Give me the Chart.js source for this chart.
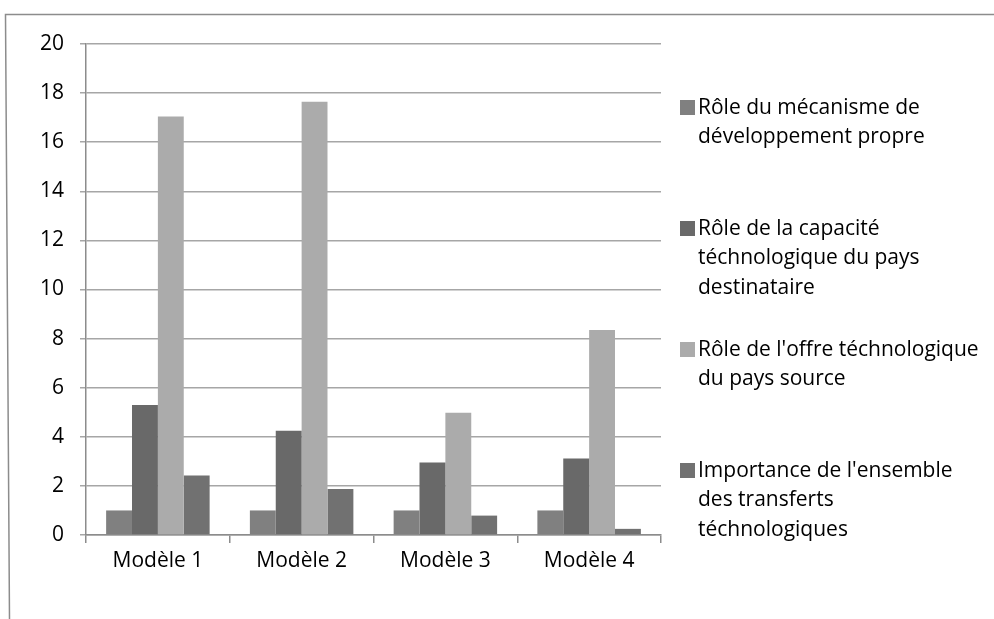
<!DOCTYPE html>
<html>
<head>
<meta charset="utf-8">
<script src="https://cdn.jsdelivr.net/npm/chart.js@4/dist/chart.umd.min.js"></script>
<style>
  html, body { margin: 0; padding: 0; background: #fff; }
  #wrap { width: 994px; height: 619px; }
</style>
</head>
<body>
<div id="wrap"><canvas id="barChart" width="994" height="619"></canvas></div>
<script>
const categories = ['Modèle 1', 'Modèle 2', 'Modèle 3', 'Modèle 4'];
const roleMecanisme = [1, 1, 1, 1];
const roleCapacite = [5.3, 4.25, 2.95, 3.12];
const roleOffre = [17.05, 17.65, 4.98, 8.35];
const importanceTransferts = [2.42, 1.87, 0.79, 0.25];
const legendLines = [
    ['Rôle du mécanisme de', 'développement propre'],
    ['Rôle de la capacité', 'téchnologique du pays', 'destinataire'],
    ["Rôle de l'offre téchnologique", 'du pays source'],
    ["Importance de l'ensemble", 'des transferts', 'téchnologiques']
];
const yTicks = [0, 2, 4, 6, 8, 10, 12, 14, 16, 18, 20];

const colors = ['#808080', '#696969', '#ababab', '#717171'];
const FONT = '"Open Sans", Lato, sans-serif';

// frame + legend drawn by hand, like the excel export
const frameAndLegend = {
    id: 'frameAndLegend',
    afterDraw(chart) {
        const c = chart.ctx;
        c.save();
        c.strokeStyle = '#8c8c8c';
        c.lineWidth = 1.5;
        c.beginPath();
        c.moveTo(994, 14.5);
        c.lineTo(5.5, 14.5);
        c.lineTo(9.5, 619);
        c.stroke();

        c.font = '21px ' + FONT;
        c.textBaseline = 'middle';
        c.fillStyle = '#000';
        chart.data.datasets.forEach((ds, i) => {
            const y0 = 107 + 121 * i;
            c.fillStyle = ds.backgroundColor;
            c.fillRect(680, y0 - 7, 15, 15);
            c.fillStyle = '#000';
            legendLines[i].forEach((line, j) => {
                c.fillText(line, 698, y0 + 1 + j * 29.5);
            });
        });
        c.restore();
    }
};

const ctx = document.getElementById('barChart').getContext('2d');
const myChart = new Chart(ctx, {
    type: 'bar',
    data: {
        labels: categories,
        datasets: [
            { label: legendLines[0].join(' '), data: roleMecanisme, backgroundColor: colors[0] },
            { label: legendLines[1].join(' '), data: roleCapacite, backgroundColor: colors[1] },
            { label: legendLines[2].join(' '), data: roleOffre, backgroundColor: colors[2] },
            { label: legendLines[3].join(' '), data: importanceTransferts, backgroundColor: colors[3] }
        ]
    },
    options: {
        responsive: false,
        animation: false,
        layout: { padding: { left: 10, top: 44, right: 333, bottom: 0 } },
        datasets: { bar: { categoryPercentage: 0.72, barPercentage: 1.0, borderWidth: 0 } },
        plugins: {
            legend: { display: false },
            tooltip: { enabled: false }
        },
        scales: {
            x: {
                offset: true,
                grid: { display: true, offset: true, drawOnChartArea: false, drawTicks: true, tickLength: 8, color: '#8c8c8c', lineWidth: 1.5 },
                border: { color: '#8c8c8c', width: 1.5 },
                ticks: { color: '#000', font: { family: FONT, size: 21 }, padding: 5 },
                afterFit(scale) { scale.height = 619 - 535; }
            },
            y: {
                min: 0,
                max: 20,
                afterBuildTicks(scale) { scale.ticks = yTicks.map(v => ({ value: v })); },
                grid: { color: '#a6a6a6', lineWidth: 1.5, tickLength: 6, drawTicks: true },
                border: { color: '#8c8c8c', width: 1.5 },
                ticks: { color: '#000', font: { family: FONT, size: 21 }, padding: 16 },
                afterFit(scale) { scale.width = 86 - 10; }
            }
        }
    },
    plugins: [frameAndLegend]
});
</script>
</body>
</html>
